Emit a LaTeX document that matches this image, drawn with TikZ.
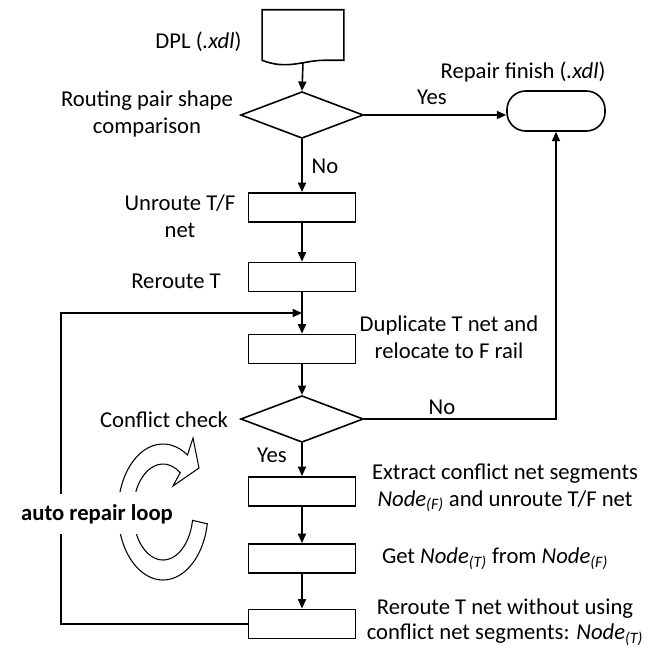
\documentclass[tikz,border=0pt]{standalone}
\usepackage{fontspec}
\setmainfont{Carlito}
\usetikzlibrary{shapes.geometric,arrows.meta}

\tikzset{
  box/.style={draw, rectangle, line width=1.2pt, minimum width=80pt, minimum height=22pt, inner sep=0pt},
  test/.style={draw, diamond, line width=1.2pt, minimum width=92pt, minimum height=35pt, inner sep=0pt},
  term/.style={draw, rectangle, rounded corners=14pt, line width=1.2pt, minimum width=73.5pt, minimum height=30pt},
  flow/.style={line width=1.2pt, -{Triangle[length=7pt,width=6pt]}},
  lbl/.style={align=center, inner sep=1pt},
  band/.style={line width=0.8pt},
}

\begin{document}
\begin{tikzpicture}[x=0.75pt, y=0.75pt, font=\fontsize{17}{20}\selectfont]

		\useasboundingbox (0,0) rectangle (664,-650);

		% Nodes
		\node[minimum width=61pt, minimum height=37.5pt] (dpl) at (303,-35) {};
		\draw[line width=1.2pt] (dpl.north west) -- (dpl.north east) -- (dpl.south east) -- ++(-20,0)
			.. controls +(-20,0) and +(25,-10) .. (dpl.south west) -- cycle;
		\node[test] (cmp) at (302,-115) {};
		\node[term] (done) at (556,-111) {};
		\node[box] (unroute) at (302,-207.5) {};
		\node[box] (reroute) at (302,-277) {};
		\node[box] (dup) at (302,-349) {};
		\node[test] (chk) at (302,-419) {};
		\node[box] (extract) at (302,-491.5) {};
		\node[box] (getnode) at (302,-558.5) {};
		\node[box] (fix) at (302,-624) {};
		\coordinate (join) at (302,-313);
		\coordinate (corner) at (61,-313);

		% Labels
		\node[lbl, anchor=east] (dpltxt) at (243,-42) {DPL (\textit{.xdl})};
		\node[lbl] (cmptxt) at (147,-114) {Routing pair shape\\comparison};
		\node[lbl] (donetxt) at (523,-72) {Repair finish (\textit{.xdl})};
		\node[lbl] (yes1) at (432,-97) {Yes};
		\node[lbl] (no1) at (325,-166) {No};
		\node[lbl] (unroutetxt) at (180,-216) {Unroute T/F\\net};
		\node[lbl] (reroutetxt) at (176,-281) {Reroute T};
		\node[lbl] (duptxt) at (449,-337) {Duplicate T net and\\relocate to F rail};
		\node[lbl] (chktxt) at (164,-420) {Conflict check};
		\node[lbl] (no2) at (442,-407) {No};
		\node[lbl] (yes2) at (272,-455) {Yes};
		\node[lbl] (extracttxt) at (505,-488) {Extract conflict net segments\\\textit{Node}\textsubscript{\textit{(F)}} and unroute T/F net};
		\node[lbl] (getnodetxt) at (495,-559) {Get \textit{Node}\textsubscript{\textit{(T)}} from \textit{Node}\textsubscript{\textit{(F)}}};
		\node[lbl, font=\fontsize{17}{19}\selectfont] (fixtxt) at (505,-622) {Reroute T net without using\\conflict net segments: \textit{Node}\textsubscript{\textit{(T)}}};

		% Edges
		\draw[flow] ([yshift=-1.5pt]dpl.south) -- (cmp.north);
		\draw[flow] (cmp.east) -- (cmp.east -| done.west);
		\draw[flow] (cmp.south) -- (unroute.north);
		\draw[flow] (unroute.south) -- (reroute.north);
		\draw[flow] (reroute.south) -- (dup.north);
		\draw[flow] (dup.south) -- (chk.north);
		\draw[flow] (chk.east) -| (done.south);
		\draw[flow] (chk.south) -- (extract.north);
		\draw[flow] (extract.south) -- (getnode.north);
		\draw[flow] (getnode.south) -- (fix.north);
		\draw[flow] (fix.west) -| (corner) -- (join);

		% Loop sign
		\coordinate (cyc) at (163,-512);
		\draw[band] ([shift={(163:45 and 68)}]cyc) arc[start angle=163, end angle=57, x radius=45, y radius=68]
			-- (193,-438) -- (199,-468) -- (173,-486)
			-- ([shift={(55:30 and 48)}]cyc) arc[start angle=55, end angle=155, x radius=30, y radius=48];
		\draw[band] ([shift={(197:45 and 68)}]cyc) arc[start angle=197, end angle=350, x radius=45, y radius=68]
			-- ([shift={(350:30 and 48)}]cyc) arc[start angle=350, end angle=205, x radius=30, y radius=48];
		\node[lbl, fill=white, minimum height=30pt, font=\fontsize{17}{20}\selectfont\bfseries] (looptxt) at (97,-514) {auto repair loop};

	\end{tikzpicture}
\end{document}
